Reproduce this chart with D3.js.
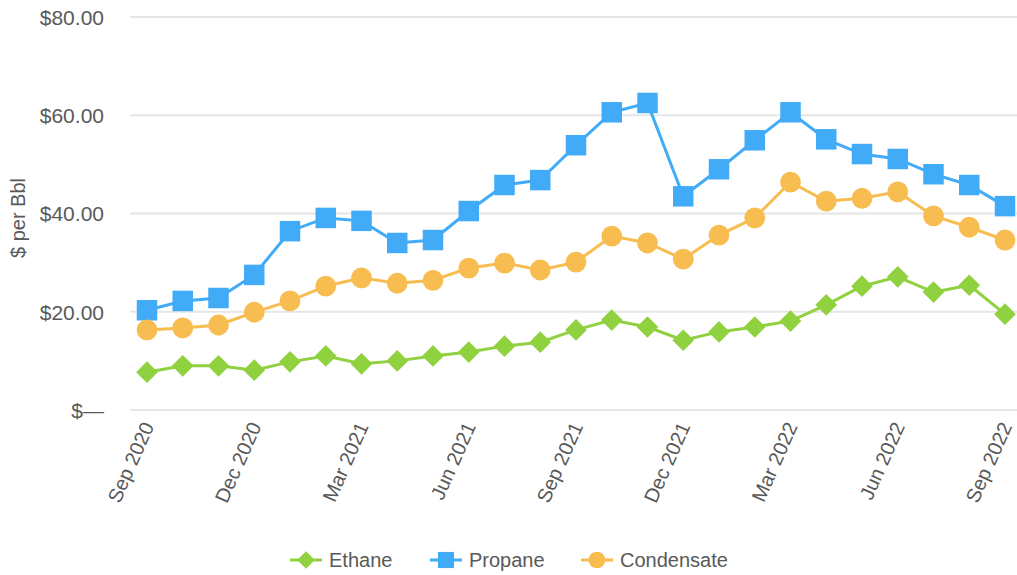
<!DOCTYPE html>
<html>
<head>
<meta charset="utf-8">
<script src="https://cdn.jsdelivr.net/npm/d3@7"></script>
<style>
  body { margin: 0; background: #fff; }
  text { font-family: "Liberation Sans", Arial, sans-serif; fill: #595959; }
</style>
</head>
<body>
<div id="chart"></div>
<script>
// months Sep 2020 .. Sep 2022
var months = ["Sep 2020","Oct 2020","Nov 2020","Dec 2020","Jan 2021","Feb 2021","Mar 2021","Apr 2021","May 2021","Jun 2021","Jul 2021","Aug 2021",
  "Sep 2021","Oct 2021","Nov 2021","Dec 2021","Jan 2022","Feb 2022","Mar 2022","Apr 2022","May 2022","Jun 2022","Jul 2022","Aug 2022","Sep 2022"];
var tickLabels = ["Sep 2020","Dec 2020","Mar 2021","Jun 2021","Sep 2021","Dec 2021","Mar 2022","Jun 2022","Sep 2022"];
var yTicks = [0, 20, 40, 60, 80];

var ethane = [7.7,9.0,9.0,8.1,9.8,11.0,9.4,10.0,11.0,11.8,13.0,13.8,16.3,18.3,16.9,14.2,15.9,16.9,18.1,21.4,25.2,27.1,24.0,25.4,19.5];
var propane = [20.3,22.2,22.8,27.5,36.4,39.1,38.5,34.0,34.6,40.5,45.8,46.8,53.9,60.6,62.5,43.5,49.0,54.9,60.6,55.1,52.1,51.1,48.0,45.8,41.5];
var condensate = [16.3,16.7,17.3,19.9,22.2,25.2,26.9,25.8,26.4,28.9,29.9,28.5,30.1,35.4,34.0,30.7,35.6,39.1,46.4,42.5,43.1,44.4,39.5,37.2,34.6];

var seriesNames = ["Ethane","Propane","Condensate"];
var seriesColors = ["#8fd13f","#41abf8","#f8bd50"];
var seriesShapes = [d3.symbolDiamond2, d3.symbolSquare, d3.symbolCircle];
var seriesData = [ethane, propane, condensate];

var width = 1017, height = 575;
var svg = d3.select("#chart").append("svg")
  .attr("width", width).attr("height", height);

var x = d3.scalePoint().domain(months).range([147, 1005]);
var y = d3.scaleLinear().domain([0, 80]).range([410, 17]);

// gridlines
svg.append("g").selectAll("line").data(yTicks).enter().append("line")
  .attr("x1", 130).attr("x2", 1017)
  .attr("y1", function(d){ return y(d); })
  .attr("y2", function(d){ return y(d); })
  .style("stroke", "#e6e6e6").style("stroke-width", 2);

// y axis labels
var yAxis = d3.axisLeft(y).tickValues(yTicks).tickSize(0).tickPadding(0)
  .tickFormat(function(d){ return d === 0 ? "$\u2014" : "$" + d3.format(".2f")(d); });
var gy = svg.append("g").attr("transform", "translate(104,0)").call(yAxis);
gy.select(".domain").remove();
gy.selectAll("text").style("font-size", "21px").attr("dy", "0.35em");

svg.append("text")
  .attr("text-anchor", "middle")
  .attr("transform", "translate(25,218)rotate(-90)")
  .style("font-size", "20px")
  .text("$ per Bbl");

// x axis labels
var xAxis = d3.axisBottom(x).tickValues(tickLabels).tickSize(0).tickPadding(0);
var gx = svg.append("g").attr("transform", "translate(0,420)").call(xAxis);
gx.select(".domain").remove();
gx.selectAll("text")
  .style("font-size", "20px")
  .attr("text-anchor", "end")
  .attr("dy", "0")
  .attr("transform", "translate(7,6)rotate(-66)");

var line = d3.line()
  .x(function(d, i){ return x(months[i]); })
  .y(function(d){ return y(d); });

seriesData.forEach(function(vals, k) {
  var g = svg.append("g");
  g.append("path").datum(vals)
    .attr("d", line)
    .style("fill", "none")
    .style("stroke", seriesColors[k])
    .style("stroke-width", 3);
  var sizes = [300, 420, 340];
  g.selectAll("path.pt").data(vals).enter().append("path")
    .attr("class", "pt")
    .attr("d", d3.symbol().type(seriesShapes[k]).size(sizes[k]))
    .attr("transform", function(d, i){ return "translate(" + x(months[i]) + "," + y(d) + ")"; })
    .style("fill", seriesColors[k]);
});

// legend
var legendX = [306, 446, 597];
var legend = svg.append("g");
seriesNames.forEach(function(name, k) {
  var lg = legend.append("g").attr("transform", "translate(" + legendX[k] + ",560)");
  lg.append("line").attr("x1", -16).attr("x2", 16)
    .style("stroke", seriesColors[k]).style("stroke-width", 3);
  var sz = [200, 260, 220];
  lg.append("path").attr("d", d3.symbol().type(seriesShapes[k]).size(sz[k]))
    .style("fill", seriesColors[k]);
  lg.append("text").attr("x", 23).attr("dy", "0.35em")
    .style("font-size", "20px").text(name);
});
</script>
</body>
</html>
